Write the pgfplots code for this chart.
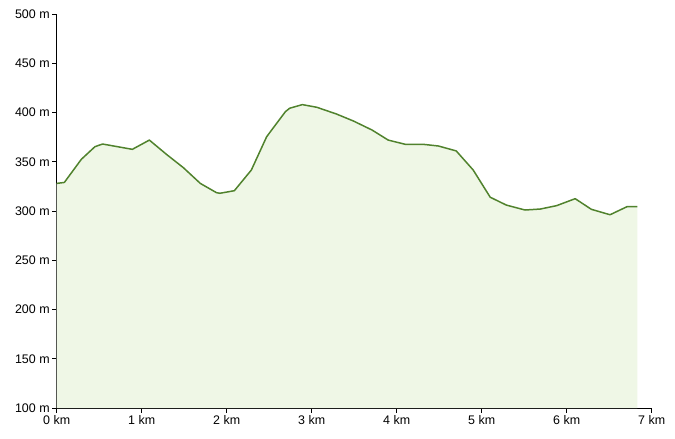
\documentclass[border=0pt]{standalone}
\usepackage{pgfplots}
\pgfplotsset{compat=1.18}
\usepackage{fontspec}
\setmainfont{Liberation Sans}
\definecolor{linegreen}{RGB}{80,130,45}
\definecolor{fillgreen}{RGB}{239,247,230}
\pgfplotstableread{
x y
0.00 328
0.09 329
0.29 352.5
0.45 365.3
0.54 368
0.89 362.6
1.09 372
1.29 357.6
1.49 344
1.69 328
1.88 318.6
1.92 318
2.09 320.6
2.29 341.6
2.47 375.4
2.69 400.8
2.74 404.3
2.89 408
3.06 405.3
3.29 398.5
3.49 391.4
3.71 382.2
3.90 372
4.10 367.7
4.31 367.7
4.49 366
4.70 361
4.90 341.6
5.10 314
5.29 306
5.51 301
5.69 302
5.88 305.4
6.10 312.5
6.29 301.7
6.51 296.2
6.71 304.4
6.83 304.4
}\elev
\begin{document}
\begin{tikzpicture}
\begin{axis}[
  name=ax,
  scale only axis,
  width=595bp, height=394bp,
  xmin=0, xmax=7, ymin=100, ymax=500,
  axis lines*=left,
  axis line style={black, line width=0.8pt},
  xtick={0,1,...,7},
  ytick={100,150,...,500},
  tick align=outside,
  major tick length=4.5bp,
  tick style={black, line width=0.8pt},
  xticklabel={\pgfmathprintnumber{\tick} km},
  yticklabel={\pgfmathprintnumber{\tick} m},
  /pgf/number format/assume math mode=true,
  tick label style={font=\fontsize{12.5}{14}\selectfont, text=black},
  xticklabel style={yshift=1bp},
  yticklabel style={xshift=1bp},
]
\addplot[fill=fillgreen, draw=none] table[x=x,y=y]{\elev} \closedcycle;
\addplot[color=linegreen, line width=1.5pt, line join=round, mark=none] table[x=x,y=y]{\elev};
\end{axis}
\path (ax.south west) ++(-56.7bp,-31bp) ++(675bp,439bp);
\end{tikzpicture}
\end{document}
